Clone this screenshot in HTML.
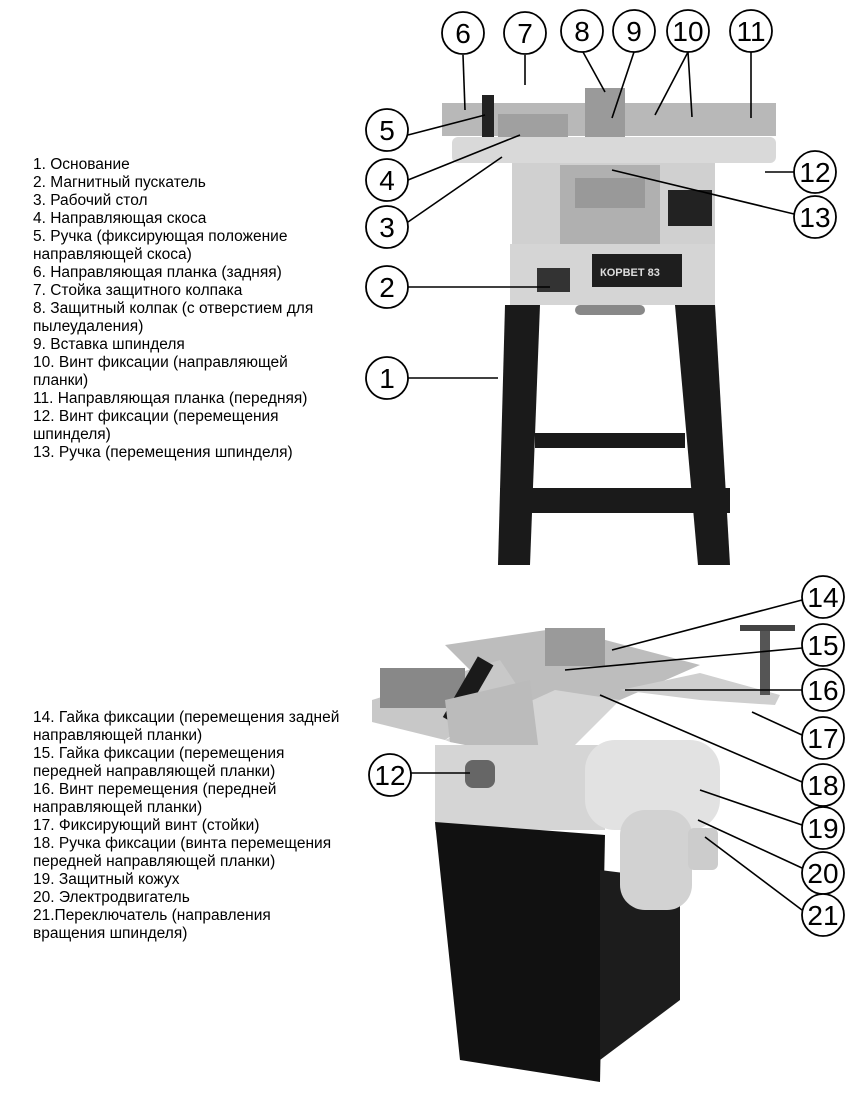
<!DOCTYPE html>
<html><head><meta charset="utf-8"><style>
html,body{margin:0;padding:0;background:#fff;width:864px;height:1104px;overflow:hidden}
.t{position:absolute;left:33px;font-family:"Liberation Sans",sans-serif;font-size:15.5px;line-height:18px;color:#000;white-space:pre}
svg{position:absolute;left:0;top:0}
</style></head><body>
<svg width="864" height="1104" viewBox="0 0 864 1104">
<g stroke="none">
<rect x="442" y="103" width="334" height="33" fill="#b8b8b8"/>
<rect x="585" y="88" width="40" height="50" fill="#9a9a9a"/>
<rect x="498" y="114" width="70" height="24" fill="#a0a0a0"/>
<rect x="482" y="95" width="12" height="45" fill="#222"/>
<rect x="452" y="137" width="324" height="26" rx="6" fill="#d9d9d9"/>
<rect x="512" y="163" width="203" height="82" fill="#d0d0d0"/>
<rect x="560" y="165" width="100" height="80" fill="#b0b0b0"/>
<rect x="575" y="178" width="70" height="30" fill="#999"/>
<rect x="668" y="190" width="44" height="36" fill="#222"/>
<rect x="510" y="244" width="205" height="61" fill="#d5d5d5"/>
<rect x="537" y="268" width="33" height="24" fill="#333"/>
<rect x="592" y="254" width="90" height="33" fill="#1e1e1e"/>
<text x="600" y="276" font-family="Liberation Sans,sans-serif" font-size="11" font-weight="bold" fill="#ddd">КОРВЕТ 83</text>
<rect x="575" y="305" width="70" height="10" rx="5" fill="#888"/>
<polygon points="505,305 540,305 530,565 498,565" fill="#1a1a1a"/>
<polygon points="675,305 715,305 730,565 698,565" fill="#1a1a1a"/>
<rect x="535" y="433" width="150" height="15" fill="#1a1a1a"/>
<rect x="500" y="488" width="230" height="25" fill="#1a1a1a"/>
<polygon points="445,645 560,628 700,665 620,700 555,755" fill="#bdbdbd"/>
<polygon points="372,700 500,660 520,690 445,740 372,722" fill="#c8c8c8"/>
<polygon points="445,740 555,690 620,700 560,760 450,742" fill="#d5d5d5"/>
<rect x="380" y="668" width="85" height="40" fill="#888"/>
<rect x="433" y="680" width="70" height="18" fill="#1a1a1a" transform="rotate(-60 470 690)"/>
<polygon points="445,700 530,680 540,760 450,742" fill="#bbb"/>
<polygon points="620,690 700,673 780,695 775,705 700,700" fill="#cfcfcf"/>
<rect x="760" y="630" width="10" height="65" fill="#555"/>
<rect x="740" y="625" width="55" height="6" fill="#444"/>
<rect x="545" y="628" width="60" height="38" fill="#9a9a9a"/>
<polygon points="435,745 605,745 605,830 435,830" fill="#d5d5d5"/>
<rect x="465" y="760" width="30" height="28" rx="8" fill="#666"/>
<polygon points="435,822 605,835 600,1082 460,1060" fill="#111"/>
<polygon points="600,870 680,880 680,1000 600,1060" fill="#1c1c1c"/>
<rect x="585" y="740" width="135" height="90" rx="30" fill="#e2e2e2"/>
<rect x="620" y="810" width="72" height="100" rx="25" fill="#d2d2d2"/>
<rect x="688" y="828" width="30" height="42" rx="6" fill="#ccc"/>
</g>
<g stroke="#000" stroke-width="1.6" fill="none">
<line x1="463" y1="55" x2="465" y2="110"/><line x1="525" y1="55" x2="525" y2="85"/>
<line x1="583" y1="52" x2="605" y2="92"/><line x1="634" y1="52" x2="612" y2="118"/>
<line x1="688" y1="52" x2="655" y2="115"/><line x1="688" y1="52" x2="692" y2="117"/>
<line x1="751" y1="52" x2="751" y2="118"/>
<line x1="408" y1="135" x2="485" y2="115"/><line x1="408" y1="180" x2="520" y2="135"/>
<line x1="408" y1="222" x2="502" y2="157"/><line x1="794" y1="172" x2="765" y2="172"/>
<line x1="794" y1="214" x2="612" y2="170"/><line x1="408" y1="287" x2="550" y2="287"/>
<line x1="408" y1="378" x2="498" y2="378"/>
<line x1="802" y1="600" x2="612" y2="650"/><line x1="802" y1="648" x2="565" y2="670"/>
<line x1="802" y1="690" x2="625" y2="690"/><line x1="802" y1="735" x2="752" y2="712"/>
<line x1="802" y1="782" x2="600" y2="695"/><line x1="802" y1="825" x2="700" y2="790"/>
<line x1="802" y1="868" x2="698" y2="820"/><line x1="802" y1="910" x2="705" y2="837"/>
<line x1="411" y1="773" x2="470" y2="773"/>
</g>
<g font-family="Liberation Sans,sans-serif" font-size="28" text-anchor="middle" fill="#000">
<g fill="#fff" stroke="#000" stroke-width="1.8">
<circle cx="463" cy="33" r="21"/><circle cx="525" cy="33" r="21"/><circle cx="582" cy="31" r="21"/>
<circle cx="634" cy="31" r="21"/><circle cx="688" cy="31" r="21"/><circle cx="751" cy="31" r="21"/>
<circle cx="387" cy="130" r="21"/><circle cx="387" cy="180" r="21"/><circle cx="387" cy="227" r="21"/>
<circle cx="815" cy="172" r="21"/><circle cx="815" cy="217" r="21"/><circle cx="387" cy="287" r="21"/>
<circle cx="387" cy="378" r="21"/>
<circle cx="823" cy="597" r="21"/><circle cx="823" cy="645" r="21"/><circle cx="823" cy="690" r="21"/>
<circle cx="823" cy="738" r="21"/><circle cx="823" cy="785" r="21"/><circle cx="823" cy="828" r="21"/>
<circle cx="823" cy="873" r="21"/><circle cx="823" cy="915" r="21"/><circle cx="390" cy="775" r="21"/>
</g>
<text x="463" y="43">6</text><text x="525" y="43">7</text><text x="582" y="41">8</text>
<text x="634" y="41">9</text><text x="688" y="41">10</text><text x="751" y="41">11</text>
<text x="387" y="140">5</text><text x="387" y="190">4</text><text x="387" y="237">3</text>
<text x="815" y="182">12</text><text x="815" y="227">13</text><text x="387" y="297">2</text>
<text x="387" y="388">1</text>
<text x="823" y="607">14</text><text x="823" y="655">15</text><text x="823" y="700">16</text>
<text x="823" y="748">17</text><text x="823" y="795">18</text><text x="823" y="838">19</text>
<text x="823" y="883">20</text><text x="823" y="925">21</text><text x="390" y="785">12</text>
</g>
</svg>
<div class="t" style="top:156px">1. Основание
2. Магнитный пускатель
3. Рабочий стол
4. Направляющая скоса
5. Ручка (фиксирующая положение
направляющей скоса)
6. Направляющая планка (задняя)
7. Стойка защитного колпака
8. Защитный колпак (с отверстием для
пылеудаления)
9. Вставка шпинделя
10. Винт фиксации (направляющей
планки)
11. Направляющая планка (передняя)
12. Винт фиксации (перемещения
шпинделя)
13. Ручка (перемещения шпинделя)</div>
<div class="t" style="top:709px">14. Гайка фиксации (перемещения задней
направляющей планки)
15. Гайка фиксации (перемещения
передней направляющей планки)
16. Винт перемещения (передней
направляющей планки)
17. Фиксирующий винт (стойки)
18. Ручка фиксации (винта перемещения
передней направляющей планки)
19. Защитный кожух
20. Электродвигатель
21.Переключатель (направления
вращения шпинделя)</div>
</body></html>
